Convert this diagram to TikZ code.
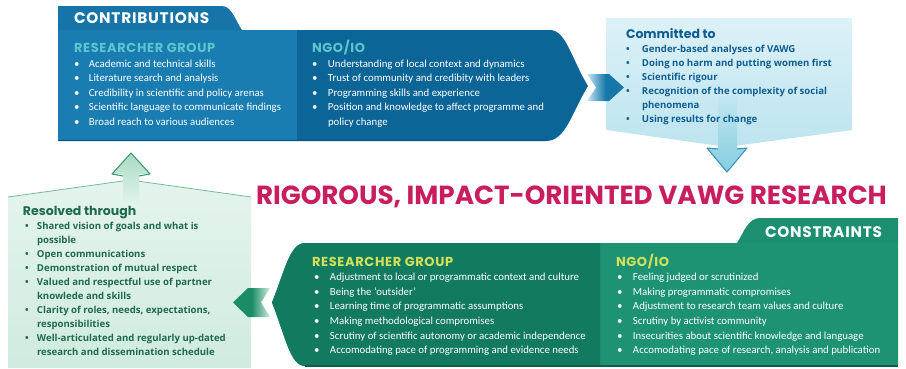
\documentclass[tikz,border=0pt]{standalone}
\usepackage{fontspec}
\setmainfont{Carlito}
\newfontfamily\hfont{Poppins}
\newfontfamily\bfont{Open Sans}
\definecolor{cRes}{HTML}{1A7DB2}
\definecolor{cNgo}{HTML}{0B6597}
\definecolor{cTab}{HTML}{1674A9}
\definecolor{cEdge}{HTML}{0A4F7C}
\definecolor{cHdrB}{HTML}{5EC5CE}
\definecolor{cComTxt}{HTML}{0F5E92}
\definecolor{cComTop}{HTML}{DDF1F8}
\definecolor{cComBot}{HTML}{BCE4EF}
\definecolor{cArrB}{HTML}{1677A8}
\definecolor{cArrBl}{HTML}{C9E7F3}
\definecolor{cDownLn}{HTML}{3B92B8}
\definecolor{cDownF}{HTML}{86CDE0}
\definecolor{cTitle}{HTML}{C81E5F}
\definecolor{cGRes}{HTML}{127A5F}
\definecolor{cGNgo}{HTML}{1D9373}
\definecolor{cGTab}{HTML}{1B8F70}
\definecolor{cGEdge}{HTML}{0E5E48}
\definecolor{cHdrG}{HTML}{D3E05A}
\definecolor{cResTxt}{HTML}{1F6A4C}
\definecolor{cResTop}{HTML}{E4F4EC}
\definecolor{cResBot}{HTML}{D0EBDF}
\definecolor{cArrG}{HTML}{1A8C66}
\definecolor{cArrGl}{HTML}{D2ECE0}
\definecolor{cUpLn}{HTML}{3D9B73}
\definecolor{cUpF}{HTML}{A9DBC3}
\newcommand{\bl}[2][15pt]{\makebox[#1][l]{\textbullet}#2}
\newcommand{\cl}[2][15pt]{\hspace*{#1}#2}
\newcommand{\hdr}{\hfont\bfseries\fontsize{13}{13}\selectfont\addfontfeature{LetterSpace=5}}
\tikzset{
  blk/.style={anchor=base west, inner sep=0pt, outer sep=0pt},
  lightbody/.style={blk, text=white, font=\fontsize{10.8}{14.6}\selectfont},
  tabtxt/.style={blk, text=white, font=\hfont\bfseries\fontsize{15.3}{15.3}\selectfont\addfontfeature{LetterSpace=5}},
  darkbody/.style={blk, font=\bfont\bfseries\fontsize{9.6}{14}\selectfont},
}
\begin{document}
\begin{tikzpicture}[x=1pt,y=-1pt]
\useasboundingbox (0,0) rectangle (906,368);

% ---------- Contributions ----------
\fill[cNgo] (58,30) -- (550,30) .. controls (566,30) and (572,60) .. (588,86)
   .. controls (572,112) and (566,141) .. (546,141) -- (58,141) -- cycle;
\fill[cRes] (58,30) rectangle (297,141);
\fill[cTab] (58,30) -- (58,6) -- (222,6) .. controls (232,6) and (236,22) .. (242,30) -- cycle;
\draw[cEdge, line width=1.6pt] (58,140.5) -- (546,140.5);

\node[tabtxt] (contribTab) at (74,23.5) {CONTRIBUTIONS};
\node[lightbody] (contribRes) at (74,52.5) {\begin{tabular}[t]{@{}l@{}}
 \textcolor{cHdrB}{\hdr RESEARCHER GROUP}\\
 \bl{Academic and technical skills}\\
 \bl{Literature search and analysis}\\
 \bl{Credibility in scientific and policy arenas}\\
 \bl{Scientific language to communicate findings}\\
 \bl{Broad reach to various audiences}
 \end{tabular}};
\node[lightbody] (contribNgo) at (312,52.5) {\begin{tabular}[t]{@{}l@{}}
 \textcolor{cHdrB}{\hdr NGO/IO}\\
 \bl[16pt]{Understanding of local context and dynamics}\\
 \bl[16pt]{Trust of community and credibity with leaders}\\
 \bl[16pt]{Programming skills and experience}\\
 \bl[16pt]{Position and knowledge to affect programme and}\\
 \cl[16pt]{policy change}
 \end{tabular}};

% ---------- Committed to ----------
\shade[top color=cComTop, bottom color=cComBot] (606,18) -- (852,18) -- (852,130) -- (727,147) -- (606,130) -- cycle;

% down arrow (behind the text)
\shade[top color=cComBot!80!cComTop, bottom color=cDownF]
  (718,96) -- (737,96) -- (737,148) -- (747,148) -- (727,172) -- (707,148) -- (718,148) -- cycle;
\draw[cDownLn, line width=1.1pt, line join=round] (718,149) -- (707,148) -- (727,172) -- (747,148) -- (737,149);

\node[darkbody, text=cComTxt] (committed) at (626,38.5) {\begin{tabular}[t]{@{}l@{}}
 {\hfont\bfseries\fontsize{12.5}{12.5}\selectfont Committed to}\\
 \bl[16pt]{Gender-based analyses of VAWG}\\
 \bl[16pt]{Doing no harm and putting women first}\\
 \bl[16pt]{Scientific rigour}\\
 \bl[16pt]{Recognition of the complexity of social}\\
 \cl[16pt]{phenomena}\\
 \bl[16pt]{Using results for change}
 \end{tabular}};

% arrow contributions -> committed
\shade[left color=cArrBl, right color=cArrB, middle color=cArrB]
  (587,74) -- (609,74) -- (624,87.5) -- (609,101) -- (587,101) -- (596,87.5) -- cycle;

% ---------- Title ----------
\node[blk, text=cTitle, font=\hfont\bfseries\fontsize{26.2}{26.2}\selectfont] (title) at (256,204.5) {RIGOROUS, IMPACT-ORIENTED VAWG RESEARCH};

% ---------- Resolved through ----------
\shade[top color=cResTop, bottom color=cResBot] (8,197) -- (130,180) -- (251,197) -- (251,368) -- (8,368) -- cycle;
\draw[cUpLn!70, line width=0.8pt] (8,197) -- (130,180) -- (251,197);
\shade[top color=cUpF, bottom color=cResTop]
  (123,205) -- (123,174) -- (112,174) -- (131,153) -- (150,174) -- (139,174) -- (139,205) -- cycle;
\draw[cUpLn, line width=1.1pt, line join=round] (123,176) -- (112,174) -- (131,153) -- (150,174) -- (139,176);

\node[darkbody, text=cResTxt] (resolved) at (23,215) {\begin{tabular}[t]{@{}l@{}}
 {\hfont\bfseries\fontsize{12.5}{12.5}\selectfont Resolved through}\\
 \cl[2pt]{\bl[12pt]{Shared vision of goals and what is}}\\
 \cl[14pt]{possible}\\
 \cl[2pt]{\bl[12pt]{Open communications}}\\
 \cl[2pt]{\bl[12pt]{Demonstration of mutual respect}}\\
 \cl[2pt]{\bl[12pt]{Valued and respectful use of partner}}\\
 \cl[14pt]{knowlede and skills}\\
 \cl[2pt]{\bl[12pt]{Clarity of roles, needs, expectations,}}\\
 \cl[14pt]{responsibilities}\\
 \cl[2pt]{\bl[12pt]{Well-articulated and regularly up-dated}}\\
 \cl[14pt]{research and dissemination schedule}
 \end{tabular}};

% ---------- Constraints ----------
\fill[cGNgo] (305,243) -- (898,243) -- (898,366) -- (305,366)
   .. controls (290,366) and (285,335) .. (272,302.5) .. controls (285,270) and (290,243) .. (305,243) -- cycle;
\fill[cGRes] (305,243) -- (600,243) -- (600,366) -- (305,366)
   .. controls (290,366) and (285,335) .. (272,302.5) .. controls (285,270) and (290,243) .. (305,243) -- cycle;
\fill[cGTab] (737,243) .. controls (744,232) and (748,218) .. (760,218) -- (898,218) -- (898,243) -- cycle;
\draw[cGEdge, line width=1.4pt] (305,366) -- (898,366);

\node[tabtxt] (constrTab) at (765,237.5) {CONSTRAINTS};
\node[lightbody] (constrRes) at (312,266) {\begin{tabular}[t]{@{}l@{}}
 \textcolor{cHdrG}{\hdr RESEARCHER GROUP}\\
 \cl[2pt]{\bl[16pt]{Adjustment to local or programmatic context and culture}}\\
 \cl[2pt]{\bl[16pt]{Being the ‘outsider’}}\\
 \cl[2pt]{\bl[16pt]{Learning time of programmatic assumptions}}\\
 \cl[2pt]{\bl[16pt]{Making methodological compromises}}\\
 \cl[2pt]{\bl[16pt]{Scrutiny of scientific autonomy or academic independence}}\\
 \cl[2pt]{\bl[16pt]{Accomodating pace of programming and evidence needs}}
 \end{tabular}};
\node[lightbody] (constrNgo) at (616,266) {\begin{tabular}[t]{@{}l@{}}
 \textcolor{cHdrG}{\hdr NGO/IO}\\
 \cl[1pt]{\bl[16pt]{Feeling judged or scrutinized}}\\
 \cl[1pt]{\bl[16pt]{Making programmatic compromises}}\\
 \cl[1pt]{\bl[16pt]{Adjustment to research team values and culture}}\\
 \cl[1pt]{\bl[16pt]{Scrutiny by activist community}}\\
 \cl[1pt]{\bl[16pt]{Insecurities about scientific knowledge and language}}\\
 \cl[1pt]{\bl[16pt]{Accomodating pace of research, analysis and publication}}
 \end{tabular}};

% arrow constraints -> resolved
\shade[right color=cArrGl, left color=cArrG, middle color=cArrG]
  (270,288) -- (248,288) -- (233,302.5) -- (248,317) -- (270,317) -- (261,302.5) -- cycle;
\end{tikzpicture}
\end{document}
